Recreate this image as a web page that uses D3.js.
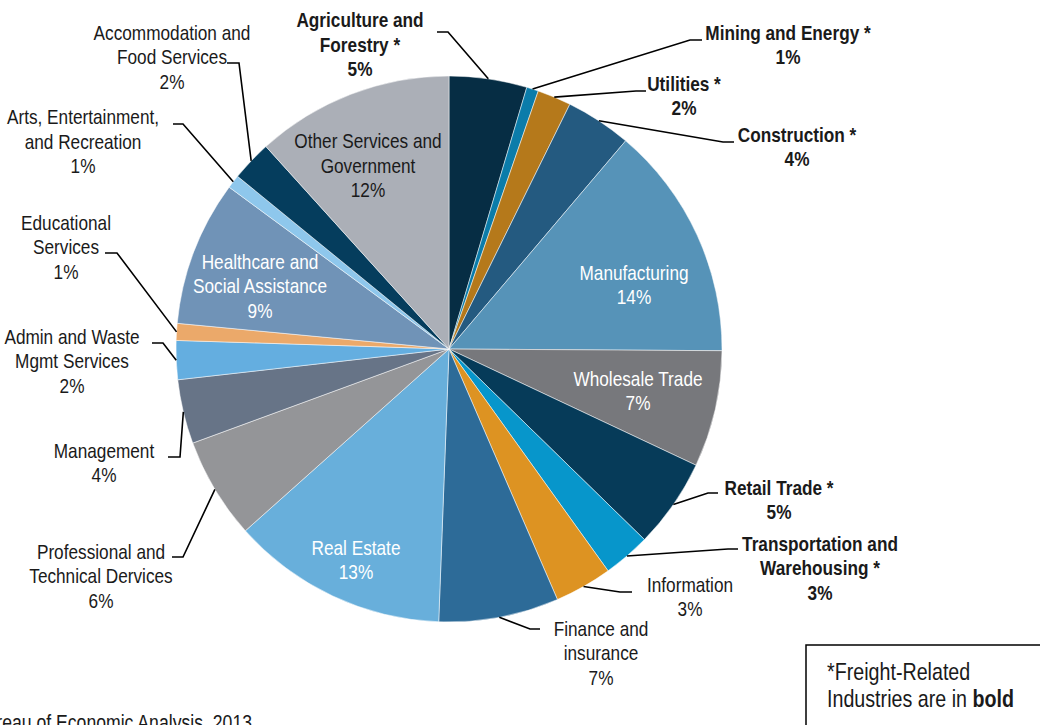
<!DOCTYPE html>
<html>
<head>
<meta charset="utf-8">
<script src="https://cdn.jsdelivr.net/npm/d3@7"></script>
<style>
  body { margin: 0; background: #fff; }
  svg { display: block; }
  text {
    font-family: "Liberation Sans", Arial, sans-serif;
    font-size: 21px;
    fill: #1a1a1a;
  }
  .bold { font-weight: bold; }
  .leader { fill: none; stroke: #000; stroke-width: 1.6; }
</style>
</head>
<body>
<script>
// industry shares (percent), clockwise from 12 o'clock
var industries = ["Agriculture and Forestry", "Mining and Energy", "Utilities", "Construction",
  "Manufacturing", "Wholesale Trade", "Retail Trade", "Transportation and Warehousing",
  "Information", "Finance and insurance", "Real Estate", "Professional and Technical Dervices",
  "Management", "Admin and Waste Mgmt Services", "Educational Services",
  "Healthcare and Social Assistance", "Arts, Entertainment, and Recreation",
  "Accommodation and Food Services", "Other Services and Government"];
var shares = [4.6, 0.7, 2.0, 3.9, 13.9, 6.9, 5.3, 2.8, 3.4, 7.1, 12.8, 6.0, 3.8, 2.3, 1.0, 8.6, 0.8, 2.4, 11.7];
var freight = [true, true, true, true, false, false, true, true, false, false, false, false,
  false, false, false, false, false, false, false];
// how the label text is broken into lines
var labelLines = [
  ["Agriculture and", "Forestry *"], ["Mining and Energy *"], ["Utilities *"], ["Construction *"],
  ["Manufacturing"], ["Wholesale Trade"], ["Retail Trade *"], ["Transportation and", "Warehousing *"],
  ["Information"], ["Finance and", "insurance"], ["Real Estate"], ["Professional and", "Technical Dervices"],
  ["Management"], ["Admin and Waste", "Mgmt Services"], ["Educational", "Services"],
  ["Healthcare and", "Social Assistance"], ["Arts, Entertainment,", "and Recreation"],
  ["Accommodation and", "Food Services"], ["Other Services and", "Government"]];
var colors = ["#062d44", "#0b7caa", "#b5791b", "#245a80", "#5693b8", "#77787c", "#063b59", "#0796cb",
  "#dd9322", "#2d6b98", "#68afdb", "#949598", "#677487", "#64aee0", "#eba96a", "#7093b7",
  "#8ec7ec", "#053d5d", "#abafb7"];

var width = 1040, height = 725;
var cx = 449, cy = 349, r = 273;
var lineH = 24.5;
var narrow = 0.82;   // squeeze Liberation Sans to look like Arial Narrow

// label layout: x = text centre, y = first baseline, inside labels have no leader
// elbow = bend of the leader line, endX = where the short horizontal stops
var layout = [
  {x: 360, y: 27.5, elbow: [448, 32], endX: 437},
  {x: 788, y: 40, elbow: [690, 40], endX: 702},
  {x: 684, y: 91, elbow: [636, 91], endX: 646},
  {x: 797, y: 142, elbow: [723, 142], endX: 734},
  {x: 634, y: 280, inside: true, fill: "#fff"},
  {x: 638, y: 386, inside: true, fill: "#fff"},
  {x: 779, y: 495, elbow: [708, 493], endX: 718},
  {x: 820, y: 551, elbow: [728, 549], endX: 738},
  {x: 690, y: 592, elbow: [620, 592], endX: 632},
  {x: 601, y: 636, elbow: [530, 629], endX: 540},
  {x: 356, y: 555, inside: true, fill: "#fff"},
  {x: 101, y: 559, elbow: [183, 557], endX: 172},
  {x: 104, y: 458, elbow: [180, 457], endX: 168},
  {x: 72, y: 344, elbow: [163, 343], endX: 152},
  {x: 66, y: 230, elbow: [117, 253], endX: 105},
  {x: 260, y: 269, inside: true, fill: "#fff"},
  {x: 83, y: 124.5, elbow: [183, 124], endX: 173},
  {x: 172, y: 40, elbow: [239, 63], endX: 227},
  {x: 368, y: 148.5, inside: true, fill: "#1a1a1a"}
];

var data = industries.map(function(name, i) {
  return {name: name, value: shares[i], bold: freight[i], lines: labelLines[i],
    color: colors[i], pos: layout[i]};
});

var svg = d3.select("body").append("svg")
  .attr("width", width)
  .attr("height", height);

var pie = d3.pie().sort(null).value(function(d) { return d.value; });
var arc = d3.arc().innerRadius(0).outerRadius(r);
var arcs = pie(data);

var g = svg.append("g").attr("transform", "translate(" + cx + "," + cy + ")");
g.selectAll("path.slice")
  .data(arcs)
  .enter().append("path")
  .attr("class", "slice")
  .attr("d", arc)
  .attr("fill", function(d) { return d.data.color; })
  .attr("stroke", "#fff")
  .attr("stroke-width", 0.5);

// leader lines from the middle of each slice's rim
var edge = d3.arc().innerRadius(r).outerRadius(r);
svg.selectAll("path.leader")
  .data(arcs.filter(function(d) { return !d.data.pos.inside; }))
  .enter().append("path")
  .attr("class", "leader")
  .attr("d", function(d) {
    var c = edge.centroid(d);
    var p = d.data.pos;
    return d3.line()([[cx + c[0], cy + c[1]], p.elbow, [p.endX, p.elbow[1]]]);
  });

// labels
var labels = svg.selectAll("text.label")
  .data(data)
  .enter().append("text")
  .attr("class", function(d) { return d.bold ? "label bold" : "label"; })
  .attr("text-anchor", "middle")
  .attr("transform", function(d) { return "translate(" + d.pos.x + ",0) scale(" + narrow + ",1)"; })
  .style("fill", function(d) { return d.pos.fill || "#1a1a1a"; });
labels.each(function(d) {
  var t = d3.select(this);
  d.lines.concat([Math.round(d.value) + "%"]).forEach(function(s, k) {
    t.append("tspan").attr("x", 0).attr("y", d.pos.y + k * lineH).text(s);
  });
});

// source, cut off at the left edge like the original
svg.append("text")
  .attr("transform", "translate(252,0) scale(" + narrow + ",1)")
  .attr("y", 730)
  .attr("text-anchor", "end")
  .style("font-size", "21.5px")
  .text("Source: Bureau of Economic Analysis, 2013");

// note box
svg.append("rect")
  .attr("x", 806).attr("y", 645)
  .attr("width", 260).attr("height", 100)
  .attr("fill", "#fff")
  .attr("stroke", "#000")
  .attr("stroke-width", 1.5);
var note = svg.append("text")
  .attr("transform", "translate(827,0) scale(" + narrow + ",1)")
  .style("font-size", "24px");
note.append("tspan").attr("x", 0).attr("y", 680).text("*Freight-Related");
note.append("tspan").attr("x", 0).attr("y", 707).text("Industries are in ");
note.append("tspan").attr("class", "bold").text("bold");
</script>
</body>
</html>
